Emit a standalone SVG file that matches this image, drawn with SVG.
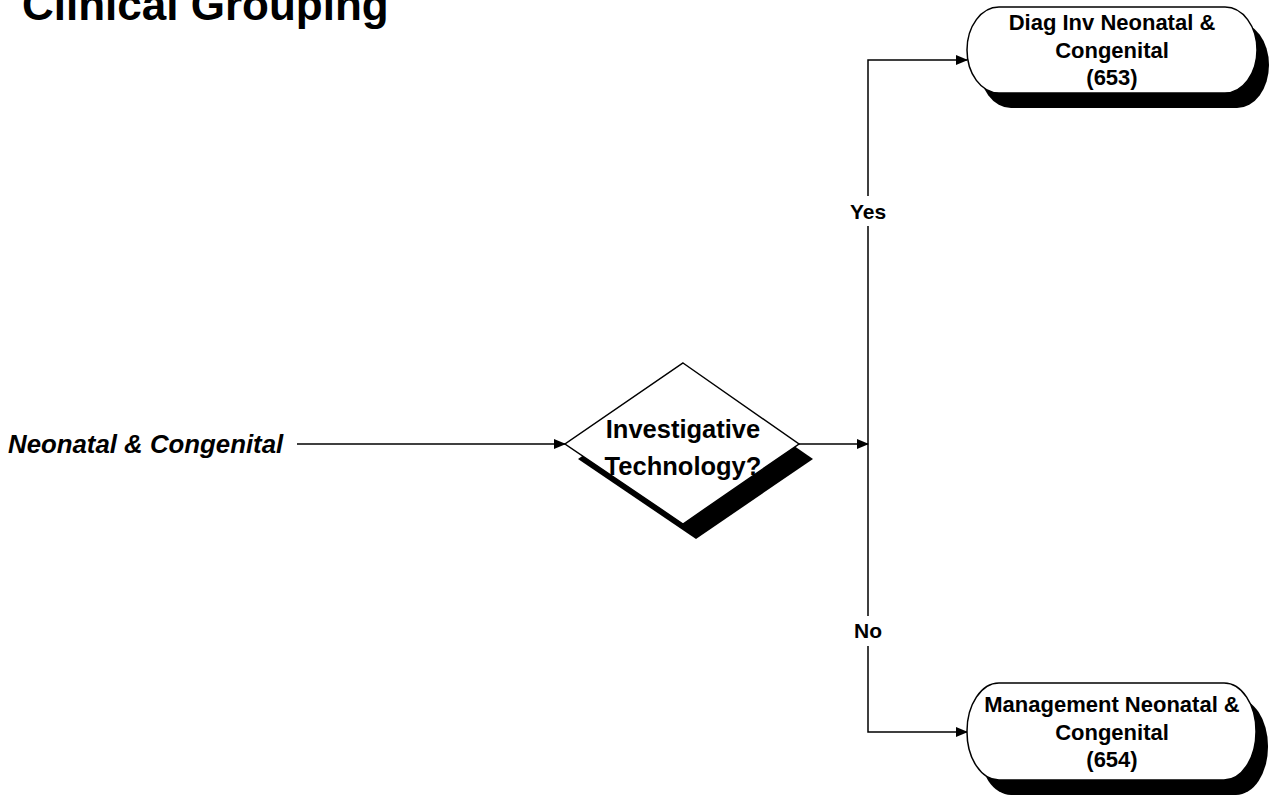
<svg xmlns="http://www.w3.org/2000/svg" width="1270" height="796" viewBox="0 0 1270 796">
<defs>
<marker id="arr" markerWidth="12" markerHeight="10" refX="11" refY="5" orient="auto" markerUnits="userSpaceOnUse">
<path d="M0,0 L12,5 L0,10 Z" fill="#000"/>
</marker>
<style>
text{font-family:"Liberation Sans",Arial,sans-serif;font-weight:bold;fill:#000}
.c{text-anchor:middle}
.ln{stroke:#000;stroke-width:1.5;fill:none}
.shape{fill:#fff;stroke:#000;stroke-width:1.5}
.sh{fill:#000}
.nt{font-size:22px}
</style>
</defs>
<rect width="1270" height="796" fill="#fff"/>
<text x="22" y="20" font-size="44">Clinical Grouping</text>

<g id="connectors">
<line class="ln" x1="297" y1="444" x2="565" y2="444" marker-end="url(#arr)"/>
<line class="ln" x1="799" y1="444" x2="868" y2="444" marker-end="url(#arr)"/>
<polyline class="ln" points="868,444 868,60 967,60" marker-end="url(#arr)"/>
<polyline class="ln" points="868,444 868,732 967,732" marker-end="url(#arr)"/>
<rect x="845" y="196" width="46" height="30" fill="#fff"/>
<text class="c" x="868" y="219" font-size="21">Yes</text>
<rect x="848" y="616" width="40" height="30" fill="#fff"/>
<text class="c" x="868" y="638" font-size="21">No</text>
</g>

<g id="start">
<text x="8" y="453" font-size="25.8" font-style="italic">Neonatal &amp; Congenital</text>
</g>

<g id="decision">
<polygon class="sh" points="696,378 813,459 696,539 578,459"/>
<polygon class="shape" points="683,363 799,444 683,524 565,444"/>
<text class="c" x="683" y="438" font-size="25.5">Investigative</text>
<text class="c" x="683" y="475" font-size="25.5">Technology?</text>
</g>

<g id="node653">
<rect class="sh" x="979" y="22" width="290" height="86" rx="32" ry="43"/>
<rect class="shape" x="967" y="7" width="290" height="86" rx="32" ry="43"/>
<text class="c nt" x="1112" y="30">Diag Inv Neonatal &amp;</text>
<text class="c nt" x="1112" y="58">Congenital</text>
<text class="c nt" x="1112" y="85">(653)</text>
</g>

<g id="node654">
<rect class="sh" x="979" y="698" width="289" height="97" rx="32" ry="48"/>
<rect class="shape" x="967" y="683" width="289" height="97" rx="32" ry="48"/>
<text class="c nt" x="1112" y="712">Management Neonatal &amp;</text>
<text class="c nt" x="1112" y="740">Congenital</text>
<text class="c nt" x="1112" y="767">(654)</text>
</g>
</svg>
